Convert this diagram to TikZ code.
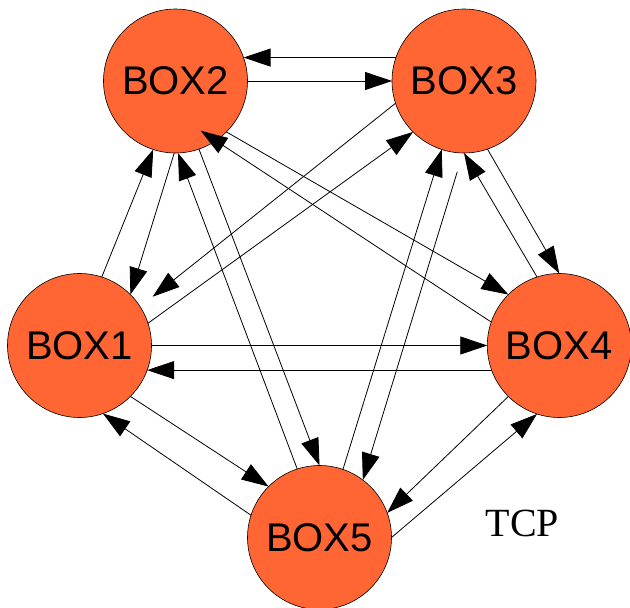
\documentclass[tikz,border=0pt]{standalone}
\usepackage{fontspec}
\setmainfont{Liberation Serif}
\setsansfont{Liberation Sans}
\usetikzlibrary{arrows.meta}
\definecolor{boxfill}{RGB}{255,102,51}
\begin{document}
\begin{tikzpicture}[x=1pt,y=-1pt,
  box/.style={circle, draw=black, line width=0.6pt, fill=boxfill,
    minimum size=144pt, inner sep=0pt, outer sep=0pt,
    font=\sffamily\fontsize{40}{48}\selectfont},
  link/.style={draw=black, line width=0.8pt,
    -{Triangle[length=27pt,width=18pt]}},
  caption/.style={font=\rmfamily\fontsize{40}{48}\selectfont, inner sep=0pt},
]
\useasboundingbox (0,0) rectangle (630,608);

% the five hosts
\node[box] (b1) at (79.5,345.5) {BOX1};
\node[box] (b2) at (175.5,81) {BOX2};
\node[box] (b3) at (464,81) {BOX3};
\node[box] (b4) at (559.3,345.5) {BOX4};
\node[box] (b5) at (319.5,537.5) {BOX5};
\node[caption] (tcp) at (522.5,523) {TCP};

% one connection in each direction between every pair
\draw[link] (b3.161) -- (b2.19);
\draw[link] (b2.0) -- (b3.180);
\draw[link] (b1.0) -- (b4.180);
\draw[link] (b4.200) -- (b1.340);
\draw[link] (b1.72) -- (b2.252);
\draw[link] (b2.269) -- (b1.45);
\draw[link] (b2.289) -- (b5.90);
\draw[link] (b5.108) -- (b2.272);
\draw[link] (b2.315) -- (b4.135);
\draw[link] (b4.161) -- ([shift={(25.2,49.7)}]b2.center);
\draw[link] (b3.198) -- ([shift={(73.2,-48.8)}]b1.center);
\draw[link] (b1.18) -- (b3.225);
\draw[link] (b3.289) -- (b4.90);
\draw[link] (b4.108) -- (b3.270);
\draw[link] ([shift={(-6.7,90.7)}]b3.center) -- (b5.53);
\draw[link] (b5.71) -- (b3.252);
\draw[link] (b1.315) -- (b5.135);
\draw[link] (b5.162) -- (b1.289);
\draw[link] (b4.225) -- (b5.20);
\draw[link] (b5.0) -- (b4.252);
\end{tikzpicture}
\end{document}
